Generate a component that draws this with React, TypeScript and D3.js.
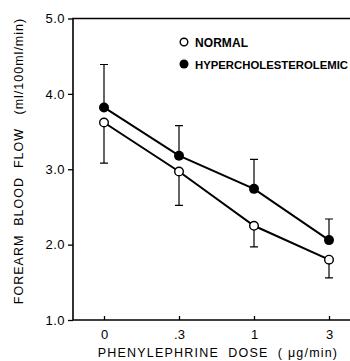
import React, { useEffect, useRef } from 'react';
import * as d3 from 'd3';

const doses = ['0', '.3', '1', '3'];
const normalMean = [3.62, 2.97, 2.25, 1.8];
const normalLow = [3.08, 2.52, 1.97, 1.56];
const hyperMean = [3.82, 3.18, 2.74, 2.06];
const hyperHigh = [4.39, 3.58, 3.13, 2.34];
const yTicks = [1, 2, 3, 4, 5];

const width = 350;
const height = 361;

const App: React.FC = () => {
  const ref = useRef<SVGSVGElement>(null);

  useEffect(() => {
    const marginLeft = 73;
    const marginTop = 18.5;
    const plotBottom = 320;
    const font = 'Liberation Sans, Arial, sans-serif';

    const svg = d3.select(ref.current);
    svg.selectAll('*').remove();

    const x = d3.scalePoint<string>().domain(doses).range([104, 329]);
    const y = d3.scaleLinear().domain([1, 5]).range([plotBottom, marginTop]);

    // frame: left, top, bottom (right edge falls outside the picture)
    svg
      .append('path')
      .attr('d', `M${width + 5},${marginTop}H${marginLeft}V${plotBottom}H${width + 5}`)
      .attr('fill', 'none')
      .attr('stroke', '#000')
      .attr('stroke-width', 1.6);

    // y axis
    const yAxis = svg
      .append('g')
      .attr('transform', `translate(${marginLeft},0)`)
      .call(
        d3
          .axisLeft(y)
          .tickValues(yTicks)
          .tickSize(5)
          .tickPadding(3)
          .tickFormat((d) => d3.format('.1f')(d as number))
      );
    yAxis.select('.domain').remove();
    yAxis.selectAll('line').attr('stroke-width', 1.3);
    yAxis
      .selectAll('text')
      .attr('font-family', font)
      .attr('font-size', 13)
      .attr('letter-spacing', 0.5)
      .attr('fill', '#000');

    // x axis, ticks point inward
    const xAxis = svg
      .append('g')
      .attr('transform', `translate(0,${plotBottom})`)
      .call(d3.axisBottom(x).tickSize(-4).tickPadding(10));
    xAxis.select('.domain').remove();
    xAxis.selectAll('line').attr('stroke-width', 1.3);
    xAxis
      .selectAll('text')
      .attr('font-family', font)
      .attr('font-size', 13)
      .attr('fill', '#000');

    // error bars
    const capW = 4;
    const drawErr = (from: number[], to: number[]) => {
      doses.forEach((d, i) => {
        const cx = x(d)!;
        svg
          .append('path')
          .attr(
            'd',
            `M${cx},${y(from[i])}V${y(to[i])}M${cx - capW},${y(to[i])}H${cx + capW}`
          )
          .attr('fill', 'none')
          .attr('stroke', '#000')
          .attr('stroke-width', 1.2);
      });
    };
    drawErr(normalMean, normalLow);
    drawErr(hyperMean, hyperHigh);

    const line = d3
      .line<number>()
      .x((_v, i) => x(doses[i])!)
      .y((v) => y(v));

    [normalMean, hyperMean].forEach((vals) => {
      svg
        .append('path')
        .datum(vals)
        .attr('d', line)
        .attr('fill', 'none')
        .attr('stroke', '#000')
        .attr('stroke-width', 2);
    });

    // markers
    normalMean.forEach((v, i) => {
      svg
        .append('circle')
        .attr('cx', x(doses[i])!)
        .attr('cy', y(v))
        .attr('r', 4.3)
        .attr('fill', '#fff')
        .attr('stroke', '#000')
        .attr('stroke-width', 1.4);
    });
    hyperMean.forEach((v, i) => {
      svg
        .append('circle')
        .attr('cx', x(doses[i])!)
        .attr('cy', y(v))
        .attr('r', 5)
        .attr('fill', '#000');
    });

    // legend
    const legend = svg.append('g').attr('transform', 'translate(184,42)');
    legend
      .append('circle')
      .attr('r', 3.8)
      .attr('fill', '#fff')
      .attr('stroke', '#000')
      .attr('stroke-width', 1.4);
    legend
      .append('text')
      .attr('x', 11)
      .attr('y', 4.5)
      .attr('font-family', font)
      .attr('font-size', 12)
      .attr('font-weight', 'bold')
      .attr('textLength', 53)
      .attr('lengthAdjust', 'spacing')
      .attr('fill', '#000')
      .text('NORMAL');
    legend.append('circle').attr('cy', 22).attr('r', 4.5).attr('fill', '#000');
    legend
      .append('text')
      .attr('x', 11)
      .attr('y', 26.5)
      .attr('font-family', font)
      .attr('font-size', 11.5)
      .attr('font-weight', 'bold')
      .attr('textLength', 153)
      .attr('lengthAdjust', 'spacingAndGlyphs')
      .attr('fill', '#000')
      .text('HYPERCHOLESTEROLEMIC');

    // axis titles
    svg
      .append('text')
      .attr('transform', `translate(23,161) rotate(-90)`)
      .attr('text-anchor', 'middle')
      .attr('font-family', font)
      .attr('font-size', 12.5)
      .attr('letter-spacing', 1)
      .attr('fill', '#000')
      .style('white-space', 'pre')
      .text('FOREARM  BLOOD  FLOW   (ml/100ml/min)');
    svg
      .append('text')
      .attr('x', 218)
      .attr('y', 357)
      .attr('text-anchor', 'middle')
      .attr('font-family', font)
      .attr('font-size', 12.5)
      .attr('letter-spacing', 1.2)
      .attr('fill', '#000')
      .style('white-space', 'pre')
      .text('PHENYLEPHRINE  DOSE  ( μg/min)');
  }, []);

  return (
    <svg
      ref={ref}
      width={width}
      height={height}
      style={{ position: 'absolute', left: 0, top: 0, background: '#fff' }}
    />
  );
};

export default App;
